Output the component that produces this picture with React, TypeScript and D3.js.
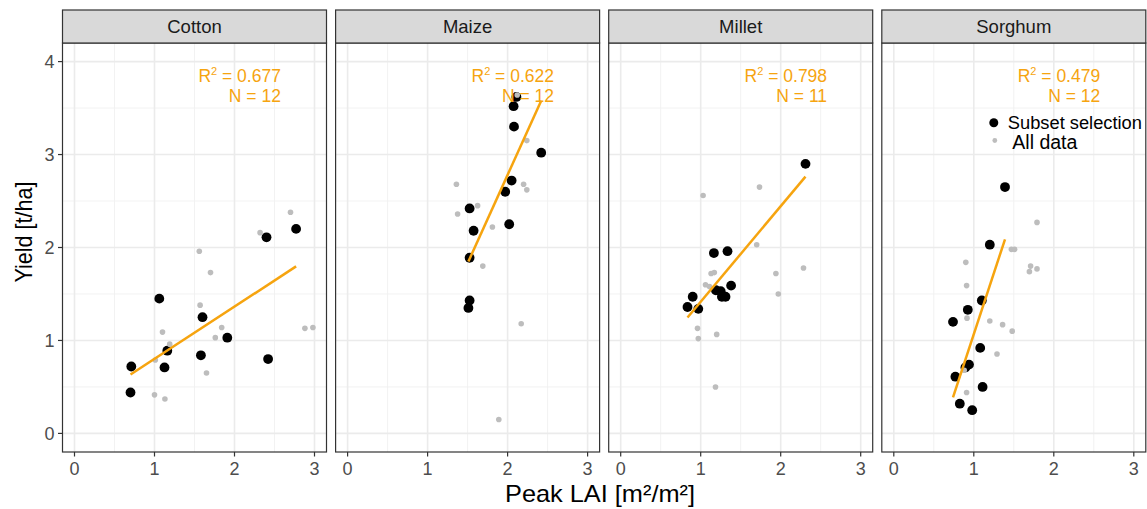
import React from "react";
import * as d3 from "d3";

const crops = ["Cotton", "Maize", "Millet", "Sorghum"];
const r2Labels = ["0.677", "0.622", "0.798", "0.479"];
const nLabels = ["12", "12", "11", "12"];
const xTicks = [0, 1, 2, 3];
const yTicks = [0, 1, 2, 3, 4];

const cottonSubsetLAI = [1.06, 1.6, 1.16, 0.71, 1.125, 0.7, 1.58, 1.91, 2.42, 2.4, 2.77];
const cottonSubsetYield = [1.45, 1.25, 0.89, 0.72, 0.71, 0.44, 0.84, 1.03, 0.8, 2.11, 2.2];
const cottonAllLAI = [1.56, 1.7, 1.57, 1.1, 1.84, 1.76, 1.19, 1.01, 1.65, 1.0, 1.13, 2.88, 2.98, 2.7, 2.32];
const cottonAllYield = [1.96, 1.73, 1.38, 1.09, 1.14, 1.03, 0.96, 0.79, 0.65, 0.415, 0.37, 1.13, 1.14, 2.38, 2.16];

const maizeSubsetLAI = [2.11, 2.075, 2.08, 2.42, 2.05, 1.97, 1.525, 1.575, 2.02, 1.525, 1.525, 1.51];
const maizeSubsetYield = [3.62, 3.52, 3.3, 3.02, 2.72, 2.6, 2.42, 2.18, 2.25, 1.89, 1.43, 1.35];
const maizeAllLAI = [2.12, 2.24, 1.36, 2.2, 2.24, 1.625, 1.375, 1.81, 1.69, 2.17, 1.89];
const maizeAllYield = [3.64, 3.15, 2.68, 2.68, 2.62, 2.45, 2.36, 2.22, 1.8, 1.18, 0.15];

const milletSubsetLAI = [2.31, 1.165, 1.335, 1.38, 0.9, 0.835, 0.97, 1.19, 1.25, 1.265, 1.31];
const milletSubsetYield = [2.9, 1.94, 1.96, 1.59, 1.47, 1.36, 1.34, 1.54, 1.53, 1.47, 1.47];
const milletAllLAI = [1.03, 1.735, 1.7, 1.94, 2.285, 1.97, 1.13, 1.17, 1.06, 1.11, 0.96, 0.97, 1.2, 1.185];
const milletAllYield = [2.56, 2.65, 2.03, 1.72, 1.78, 1.5, 1.72, 1.73, 1.6, 1.58, 1.13, 1.02, 1.065, 0.5];

const sorghumSubsetLAI = [1.39, 1.2, 1.1, 0.925, 0.74, 1.08, 0.94, 0.895, 0.77, 1.11, 0.825, 0.98];
const sorghumSubsetYield = [2.65, 2.03, 1.43, 1.33, 1.2, 0.92, 0.74, 0.71, 0.61, 0.5, 0.32, 0.25];
const sorghumAllLAI = [1.79, 1.47, 1.51, 0.9, 1.71, 1.79, 1.695, 0.91, 0.915, 1.2, 1.36, 1.48, 1.29, 0.88, 0.91];
const sorghumAllYield = [2.27, 1.98, 1.98, 1.84, 1.8, 1.77, 1.74, 1.59, 1.24, 1.21, 1.17, 1.1, 0.855, 0.68, 0.44];

const subsetLAI = [cottonSubsetLAI, maizeSubsetLAI, milletSubsetLAI, sorghumSubsetLAI];
const subsetYield = [cottonSubsetYield, maizeSubsetYield, milletSubsetYield, sorghumSubsetYield];
const allLAI = [cottonAllLAI, maizeAllLAI, milletAllLAI, sorghumAllLAI];
const allYield = [cottonAllYield, maizeAllYield, milletAllYield, sorghumAllYield];

const W = 1147;
const H = 509;
const panelTop = 43;
const panelBottom = 452;
const stripTop = 10;
const panelW = 264;
const panelLefts = [62.5, 335.6, 608.7, 881.8];
const FONT = "'Liberation Sans', Arial, Helvetica, sans-serif";
const ORANGE = "#f6a40f";

function ols(xs: number[], ys: number[]) {
  const mx = d3.mean(xs) as number;
  const my = d3.mean(ys) as number;
  let sxy = 0;
  let sxx = 0;
  xs.forEach((x, i) => {
    sxy += (x - mx) * (ys[i] - my);
    sxx += (x - mx) * (x - mx);
  });
  const slope = sxy / sxx;
  return { slope, intercept: my - slope * mx };
}

const y = d3.scaleLinear().domain([-0.2, 4.2]).range([panelBottom, panelTop]);

function Panel({ idx }: { idx: number }) {
  const left = panelLefts[idx];
  const x = d3.scaleLinear().domain([-0.15, 3.15]).range([left, left + panelW]);
  const xMinor = [0.5, 1.5, 2.5];
  const yMinor = [0.5, 1.5, 2.5, 3.5];
  const sx = subsetLAI[idx];
  const sy = subsetYield[idx];
  const ax = allLAI[idx];
  const ay = allYield[idx];
  const fit = ols(sx, sy);
  const [x0, x1] = d3.extent(sx) as [number, number];
  const line = d3
    .line<number>()
    .x((d) => x(d))
    .y((d) => y(fit.intercept + fit.slope * d));
  const clipId = `clip${idx}`;
  return (
    <g>
      <defs>
        <clipPath id={clipId}>
          <rect x={left} y={panelTop} width={panelW} height={panelBottom - panelTop} />
        </clipPath>
      </defs>
      <rect x={left} y={panelTop} width={panelW} height={panelBottom - panelTop} fill="#ffffff" />
      {xMinor.map((t) => (
        <line key={"xm" + t} x1={x(t)} x2={x(t)} y1={panelTop} y2={panelBottom} stroke="#f0f0f0" strokeWidth={0.9} />
      ))}
      {yMinor.map((t) => (
        <line key={"ym" + t} x1={left} x2={left + panelW} y1={y(t)} y2={y(t)} stroke="#f0f0f0" strokeWidth={0.9} />
      ))}
      {xTicks.map((t) => (
        <line key={"xg" + t} x1={x(t)} x2={x(t)} y1={panelTop} y2={panelBottom} stroke="#ebebeb" strokeWidth={1.6} />
      ))}
      {yTicks.map((t) => (
        <line key={"yg" + t} x1={left} x2={left + panelW} y1={y(t)} y2={y(t)} stroke="#ebebeb" strokeWidth={1.6} />
      ))}
      <g clipPath={`url(#${clipId})`}>
        {sx.map((v, i) => (
          <circle key={"s" + i} cx={x(v)} cy={y(sy[i])} r={4.9} fill="#000000" />
        ))}
        {ax.map((v, i) => (
          <circle key={"a" + i} cx={x(v)} cy={y(ay[i])} r={2.8} fill="#bdbdbd" />
        ))}
        <path d={line([x0, x1]) || ""} fill="none" stroke={ORANGE} strokeWidth={2.5} />
      </g>
      <text x={x(2.58)} y={y(3.78)} textAnchor="end" fontFamily={FONT} fontSize={17.5} fill={ORANGE}>
        R<tspan fontSize={11} dy={-7}>2</tspan>
        <tspan dy={7}> = {r2Labels[idx]}</tspan>
      </text>
      <text x={x(2.58)} y={y(3.78) + 20} textAnchor="end" fontFamily={FONT} fontSize={17.5} fill={ORANGE}>
        N = {nLabels[idx]}
      </text>
      <rect x={left} y={panelTop} width={panelW} height={panelBottom - panelTop} fill="none" stroke="#333333" strokeWidth={1.2} />
      <rect x={left} y={stripTop} width={panelW} height={panelTop - stripTop} fill="#d9d9d9" stroke="#333333" strokeWidth={1.2} />
      <text x={left + panelW / 2} y={(stripTop + panelTop) / 2 + 6.5} textAnchor="middle" fontFamily={FONT} fontSize={18.5} fill="#1a1a1a">
        {crops[idx]}
      </text>
      {xTicks.map((t) => (
        <g key={"xt" + t}>
          <line x1={x(t)} x2={x(t)} y1={panelBottom} y2={panelBottom + 4.5} stroke="#333333" strokeWidth={1.2} />
          <text x={x(t)} y={panelBottom + 23} textAnchor="middle" fontFamily={FONT} fontSize={18} fill="#4d4d4d">
            {t}
          </text>
        </g>
      ))}
      {idx === 0 &&
        yTicks.map((t) => (
          <g key={"yt" + t}>
            <line x1={left - 4.5} x2={left} y1={y(t)} y2={y(t)} stroke="#333333" strokeWidth={1.2} />
            <text x={left - 8} y={y(t) + 6.5} textAnchor="end" fontFamily={FONT} fontSize={18} fill="#4d4d4d">
              {t}
            </text>
          </g>
        ))}
      {idx === 3 && (
        <g>
          <circle cx={left + 112} cy={122.7} r={4.5} fill="#000000" />
          <text x={left + 126} y={128.5} fontFamily={FONT} fontSize={18.3} fill="#000000">
            Subset selection
          </text>
          <circle cx={left + 113} cy={140.5} r={2.4} fill="#bdbdbd" />
          <text x={left + 130.5} y={149} fontFamily={FONT} fontSize={19.5} fill="#000000">
            All data
          </text>
        </g>
      )}
    </g>
  );
}

export default function App() {
  return (
    <svg width={W} height={H} style={{ position: "absolute", left: 0, top: 0, background: "#ffffff" }}>
      <rect x={0} y={0} width={W} height={H} fill="#ffffff" />
      {crops.map((c, i) => (
        <Panel key={c} idx={i} />
      ))}
      <text
        transform="translate(32, 232) rotate(-90)"
        textAnchor="middle"
        fontFamily={FONT}
        fontSize={24}
        textLength={101}
        lengthAdjust="spacingAndGlyphs"
        fill="#000000"
      >
        Yield [t/ha]
      </text>
      <text
        x={600}
        y={502}
        textAnchor="middle"
        fontFamily={FONT}
        fontSize={24}
        textLength={190}
        lengthAdjust="spacingAndGlyphs"
        fill="#000000"
      >
        Peak LAI [m²/m²]
      </text>
    </svg>
  );
}
